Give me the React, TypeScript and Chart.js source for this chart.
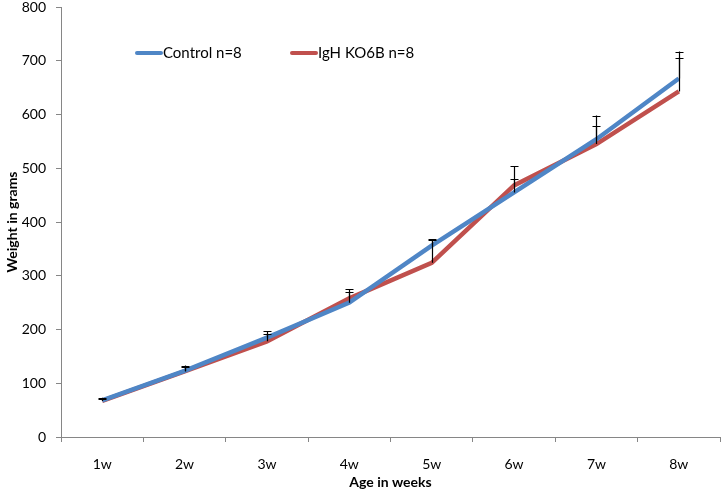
import React, { useEffect, useRef } from "react";
import { Chart, registerables } from "chart.js";

Chart.register(...registerables);

const categories = ["1w", "2w", "3w", "4w", "5w", "6w", "7w", "8w"];
const controlValues = [68, 123, 185, 250, 356, 455, 554, 667];
const koValues = [67, 122, 178, 258, 324, 468, 545, 643];
const controlErrors = [5, 10, 12, 25, 12, 25, 44, 50];
const koErrors = [4, 8, 14, 12, 42, 36, 33, 63];
const yTicks = [0, 100, 200, 300, 400, 500, 600, 700, 800];

const BLUE = "#4F86C6";
const RED = "#C0504D";
const FONT = "Lato, 'Open Sans', sans-serif";

const errorBarPlugin = {
  id: "errorBars",
  afterDatasetsDraw(chart: any) {
    const ctx = chart.ctx;
    const x = chart.scales.x;
    const y = chart.scales.y;
    const sets = [
      { vals: controlValues, errs: controlErrors },
      { vals: koValues, errs: koErrors },
    ];
    ctx.save();
    ctx.strokeStyle = "#000";
    ctx.lineWidth = 1.2;
    sets.forEach((s) => {
      s.vals.forEach((v, i) => {
        const px = Math.round(x.getPixelForValue(i)) + 0.5;
        const y0 = y.getPixelForValue(v);
        const y1 = y.getPixelForValue(v + s.errs[i]);
        ctx.beginPath();
        ctx.moveTo(px, y0);
        ctx.lineTo(px, y1);
        ctx.moveTo(px - 4, Math.round(y1) + 0.5);
        ctx.lineTo(px + 4, Math.round(y1) + 0.5);
        ctx.stroke();
      });
    });
    ctx.restore();
  },
};

const legendPlugin = {
  id: "customLegend",
  afterDraw(chart: any) {
    const ctx = chart.ctx;
    const items = [
      { label: "Control n=8", color: BLUE, x: 137 },
      { label: "IgH KO6B n=8", color: RED, x: 292 },
    ];
    const yy = 53;
    ctx.save();
    ctx.font = `15px ${FONT}`;
    ctx.textBaseline = "middle";
    ctx.fillStyle = "#000";
    items.forEach((it) => {
      ctx.strokeStyle = it.color;
      ctx.lineWidth = 4;
      ctx.lineCap = "round";
      ctx.beginPath();
      ctx.moveTo(it.x, yy);
      ctx.lineTo(it.x + 24, yy);
      ctx.stroke();
      ctx.fillText(it.label, it.x + 26, yy);
    });
    ctx.restore();
  },
};

export default function App() {
  const ref = useRef<HTMLCanvasElement>(null);
  useEffect(() => {
    document.body.style.margin = "0";
    const chart = new Chart(ref.current as HTMLCanvasElement, {
      type: "line",
      data: {
        labels: categories,
        datasets: [
          {
            label: "Control n=8",
            data: controlValues,
            borderColor: BLUE,
            borderWidth: 4.5,
            pointRadius: 0,
            tension: 0,
          },
          {
            label: "IgH KO6B n=8",
            data: koValues,
            borderColor: RED,
            borderWidth: 4.5,
            pointRadius: 0,
            tension: 0,
          },
        ],
      },
      options: {
        responsive: false,
        animation: false,
        layout: { padding: { top: 7, right: 3, left: 0, bottom: 0 } },
        plugins: {
          legend: { display: false },
          tooltip: { enabled: false },
        },
        scales: {
          x: {
            offset: true,
            grid: {
              offset: true,
              drawOnChartArea: false,
              drawTicks: true,
              tickLength: 5,
              color: "#868686",
            },
            border: { color: "#868686" },
            ticks: {
              color: "#000",
              font: { family: FONT, size: 14 },
              padding: 14,
            },
            title: {
              display: true,
              text: "Age in weeks",
              color: "#000",
              font: { family: FONT, size: 14, weight: "bold" },
              padding: { top: 0, bottom: 3 },
            },
            afterFit(scale: any) {
              scale.height = 57;
              scale.paddingLeft = 0;
              scale.paddingRight = 0;
            },
          },
          y: {
            min: 0,
            max: 800,
            afterBuildTicks(scale: any) {
              scale.ticks = yTicks.map((v) => ({ value: v }));
            },
            grid: {
              drawOnChartArea: false,
              drawTicks: true,
              tickLength: 5,
              color: "#868686",
            },
            border: { color: "#868686" },
            ticks: {
              color: "#000",
              font: { family: FONT, size: 14 },
              padding: 10,
            },
            title: {
              display: true,
              text: "Weight in grams",
              color: "#000",
              font: { family: FONT, size: 14, weight: "bold" },
              padding: { top: 4, bottom: 0 },
            },
            afterFit(scale: any) {
              scale.width = 61;
              scale.paddingTop = 0;
              scale.paddingBottom = 0;
            },
          },
        },
      },
      plugins: [errorBarPlugin, legendPlugin],
    });
    return () => chart.destroy();
  }, []);
  return (
    <div style={{ width: 723, height: 494, background: "#fff" }}>
      <canvas ref={ref} width={723} height={494} />
    </div>
  );
}
